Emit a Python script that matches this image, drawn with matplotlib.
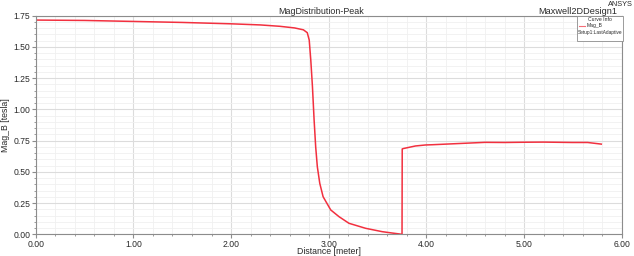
import matplotlib
matplotlib.use('Agg')
from matplotlib import pyplot as plt
from matplotlib.patches import Rectangle
from matplotlib.lines import Line2D
from matplotlib.ticker import MultipleLocator, FormatStrFormatter

plt.rcParams['font.family'] = ['Liberation Sans', 'DejaVu Sans']

# Mag_B along the path
distance = [0.00, 0.50, 1.00, 1.50, 2.00, 2.30, 2.50, 2.65, 2.74, 2.78,
            2.80, 2.816, 2.833, 2.85, 2.866, 2.883, 2.908, 2.942, 3.02,
            3.105, 3.207, 3.377, 3.547, 3.65, 3.75,
            3.752, 3.761, 3.887, 3.99, 4.06, 4.23, 4.40, 4.60, 4.80,
            5.01, 5.20, 5.49, 5.65, 5.79]
mag_b = [1.715, 1.712, 1.704, 1.696, 1.685, 1.676, 1.665, 1.652, 1.637, 1.614,
         1.555, 1.395, 1.182, 0.915, 0.701, 0.541, 0.408, 0.301, 0.195,
         0.141, 0.088, 0.048, 0.021, 0.010, 0.0,
         0.683, 0.686, 0.707, 0.715, 0.717, 0.723, 0.729, 0.736, 0.735,
         0.737, 0.738, 0.735, 0.735, 0.722]

grey = '#8c8c8c'
txt = '#2a2a2a'
red = '#f2303f'

fig = plt.figure(figsize = (6.34, 2.56), dpi = 100)
ax = fig.add_axes([0.0563, 0.0848, 0.9245, 0.8539])
ax.plot(distance, mag_b, c = red, lw = 1.1)
ax.set_xlim(0, 6)
ax.set_ylim(0, 1.75)

ax.xaxis.set_major_locator(MultipleLocator(1))
ax.xaxis.set_minor_locator(MultipleLocator(0.2))
ax.yaxis.set_major_locator(MultipleLocator(0.25))
ax.yaxis.set_minor_locator(MultipleLocator(0.05))
ax.xaxis.set_major_formatter(FormatStrFormatter('%.2f'))
ax.yaxis.set_major_formatter(FormatStrFormatter('%.2f'))
ax.grid(True, which = 'major', color = '#dcdcdc', lw = 0.8)
ax.grid(True, which = 'minor', color = '#f0f0f0', lw = 0.6)
ax.set_axisbelow(True)
ax.tick_params(which = 'both', colors = grey, labelcolor = txt, labelsize = 6.2,
               direction = 'out', pad = 1)
ax.tick_params(which = 'major', length = 3)
ax.tick_params(which = 'minor', length = 1.5)
for spine in ax.spines.values():
    spine.set_color(grey)
    spine.set_linewidth(0.8)

ax.set_xlabel('Distance [meter]', fontsize = 6.3, color = txt, va = 'center')
ax.xaxis.set_label_coords(0.5, -0.08)
ax.set_ylabel('Mag_B [tesla]', fontsize = 6.3, color = txt)
ax.yaxis.set_label_coords(-0.044, 0.5)

fig.text(0.506, 0.957, 'MagDistribution-Peak', fontsize = 6.4, color = txt,
         ha = 'center', va = 'center')
fig.text(0.973, 0.957, 'Maxwell2DDesign1', fontsize = 6.6, color = txt,
         ha = 'right', va = 'center')
fig.text(0.998, 0.982, 'ANSYS', fontsize = 5.3, color = txt, ha = 'right', va = 'center')

# Curve Info box, drawn by hand in figure pixels
W, H = 634, 256
fig.patches.append(Rectangle((577 / W, 1 - 41 / H), 46 / W, 25 / H, transform = fig.transFigure,
                             facecolor = 'white', edgecolor = grey, lw = 0.6, zorder = 5))
fig.text(600 / W, 1 - 19.5 / H, 'Curve Info', fontsize = 3.7, color = txt,
         ha = 'center', va = 'center', zorder = 6)
fig.lines.append(Line2D([579 / W, 585 / W], [1 - 25.8 / H, 1 - 25.8 / H], transform = fig.transFigure,
                        c = red, lw = 0.8, alpha = 0.7, zorder = 6))
fig.text(587 / W, 1 - 25.8 / H, 'Mag_B', fontsize = 3.6, color = txt,
         ha = 'left', va = 'center', zorder = 6)
fig.text(600 / W, 1 - 32.5 / H, 'Setup1:LastAdaptive', fontsize = 3.4, color = txt,
         ha = 'center', va = 'center', zorder = 6)

fig.savefig('out.png', dpi = 100)
